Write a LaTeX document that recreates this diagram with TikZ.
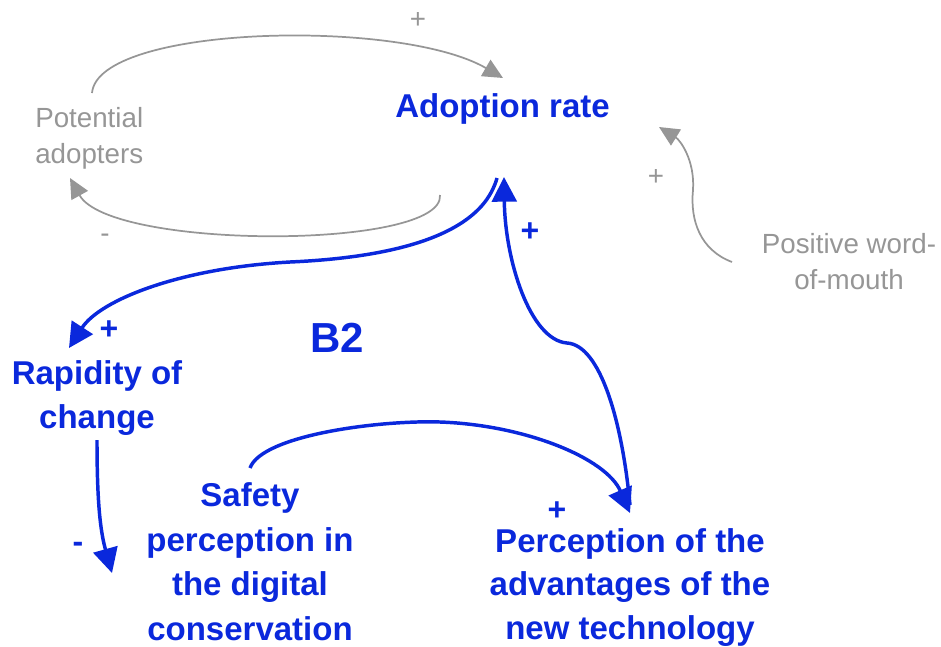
\documentclass[tikz,border=0pt]{standalone}
\usepackage{fontspec}
\setmainfont{Liberation Sans}
\usetikzlibrary{arrows.meta}
\definecolor{loopblue}{RGB}{10,40,220}
\definecolor{linkgray}{RGB}{150,150,150}
\begin{document}
\begin{tikzpicture}[x=0.75pt,y=-0.75pt,
  bluevar/.style={text=loopblue, font=\bfseries\fontsize{24.75}{33}\selectfont, align=center, inner sep=0pt, anchor=base},
  grayvar/.style={text=linkgray, font=\fontsize{20.8}{27}\selectfont, inner sep=0pt},
  bluelink/.style={draw=loopblue, line width=2.6pt, -{Triangle[length=18.5pt,width=18.5pt]}},
  graylink/.style={draw=linkgray, line width=1.3pt, -{Triangle[length=15pt,width=14pt]}},
  bluesign/.style={text=loopblue, font=\bfseries\fontsize{24}{24}\selectfont, inner sep=0pt},
  graysign/.style={text=linkgray, font=\fontsize{20.8}{20.8}\selectfont, inner sep=0pt},
]
\useasboundingbox (0,0) rectangle (941,646);

% variables (base anchor = baseline of the last line)
\node[bluevar] (adopt) at (502.5,117) {Adoption rate};
\node[grayvar, align=left, anchor=base west] (pot) at (35,163) {Potential\\adopters};
\node[grayvar, align=center, anchor=base] (wom) at (849,289) {Positive word-\\of-mouth};
\node[bluevar] (rap) at (97,428) {Rapidity of\\change};
\node[bluevar, font=\bfseries\fontsize{24.75}{33.4}\selectfont] (safe) at (250,640.5) {Safety\\perception in\\the digital\\conservation};
\node[bluevar, font=\bfseries\fontsize{24.75}{32.5}\selectfont] (perc) at (630,639) {Perception of the\\advantages of the\\new technology};
\node[text=loopblue, font=\bfseries\fontsize{31.5}{31.5}\selectfont, inner sep=0pt, anchor=base] (loop) at (337,352) {B2};

% outer (grey) links
\draw[graylink] ([shift={(57,-70)}]pot.base west) .. controls (98,25) and (400,18) .. ([shift={(0.5,-39)}]adopt.base);
\draw[graylink] ([shift={(-62.5,78)}]adopt.base) .. controls (445,250) and (110,250) .. ([shift={(35,15)}]pot.base west);
\draw[graylink] ([shift={(-117,-27)}]wom.base) .. controls (700,250) and (690,220) .. (693,190)
  .. controls (695,160) and (680,140) .. ([shift={(156.5,10)}]adopt.base);

% B2 loop links
\draw[bluelink] ([shift={(-5.5,61)}]adopt.base) .. controls (480,240) and (380,258) .. (290,262)
  .. controls (180,268) and (100,300) .. ([shift={(-28,-80)}]rap.base);
\draw[bluelink] ([shift={(0,12)}]rap.base) .. controls (97,500) and (100,530) .. ([shift={(-138,-67.5)}]safe.base);
\draw[bluelink] ([shift={(0,-172.5)}]safe.base) .. controls (262,435) and (380,420) .. (440,422)
  .. controls (525,425) and (606,458) .. ([shift={(0,-126)}]perc.base);
\draw[bluelink] ([shift={(0,-134)}]perc.base) .. controls (622,420) and (600,345) .. (567,343)
  .. controls (530,340) and (505,260) .. ([shift={(1.5,60)}]adopt.base);

% polarities
\node[graysign] (s1) at (418,20) {+};
\node[graysign] (s2) at (105,238) {-};
\node[graysign] (s3) at (656,177) {+};
\node[bluesign] (s4) at (109,330) {+};
\node[bluesign] (s5) at (530,232) {+};
\node[bluesign] (s6) at (557,511) {+};
\node[bluesign] (s7) at (78,547) {-};
\end{tikzpicture}
\end{document}
